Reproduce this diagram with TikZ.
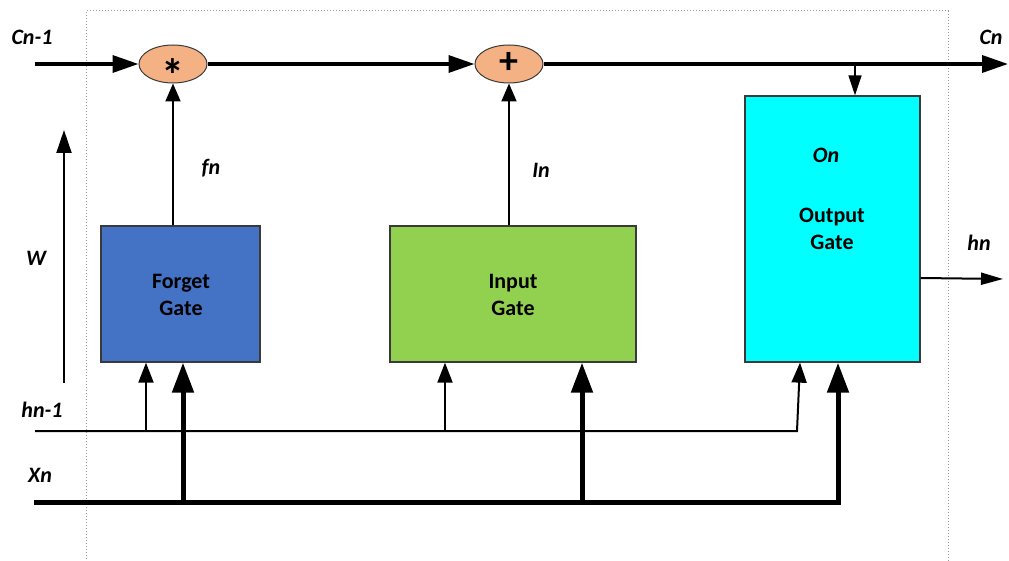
\documentclass[tikz,border=0pt]{standalone}
\usepackage{fontspec}
\setmainfont{Carlito}
\usetikzlibrary{arrows.meta,shapes.geometric}
\definecolor{forgetc}{HTML}{4472C4}
\definecolor{inputc}{HTML}{92D050}
\definecolor{outc}{HTML}{00FFFF}
\definecolor{opc}{HTML}{F4B183}
\definecolor{edgec}{HTML}{3A3A3A}
\begin{document}
\begin{tikzpicture}[x=1pt,y=-1pt,
  gatebox/.style={draw=edgec,line width=1.3pt,inner sep=0pt},
  opnode/.style={ellipse,draw=edgec,line width=1pt,fill=opc,minimum width=68pt,minimum height=38pt,inner sep=0pt},
  lbl/.style={font=\fontsize{22}{24}\selectfont\bfseries\itshape},
  gtxt/.style={font=\fontsize{22}{27}\selectfont\bfseries,align=center},
  cell/.style={line width=3.5pt,-{Triangle[length=26pt,width=17pt]}},
  thin/.style={line width=2pt,-{Triangle[length=20pt,width=15pt]}},
  thick/.style={line width=5pt,-{Triangle[length=30pt,width=21pt]}},
  sig/.style={line width=1.6pt,-{Triangle[length=20pt,width=13pt]}}
]
\useasboundingbox (0,0) rectangle (1009,561);
% dotted frame
\draw[gray!80,dotted,line width=1pt] (86,565) -- (86,11) -- (948,11) -- (948,565);
% gates
\node[gatebox,fill=forgetc,minimum width=159pt,minimum height=136pt] (forget) at (180.5,294) {};
\node[gtxt] at (181,295) {Forget\\Gate};
\node[gatebox,fill=inputc,minimum width=246pt,minimum height=136pt] (input) at (513,294) {};
\node[gtxt] at (513,295) {Input\\Gate};
\node[gatebox,fill=outc,minimum width=175pt,minimum height=266pt] (outg) at (832.5,229) {};
\node[lbl] (on) at (826,155) {On};
\node[gtxt] (outtxt) at (832,229) {Output\\Gate};
% operators
\node[opnode] (mult) at (173,64) {};
\node[font=\fontsize{46}{46}\selectfont\bfseries] at (173,75) {*};
\node[opnode] (add) at (509,64) {};
\node[font=\fontsize{38}{38}\selectfont\bfseries] at (509,63) {+};
% labels
\node[lbl] (lcn1) at (32,37) {Cn-1};
\node[lbl] (lcn) at (991,37) {Cn};
\node[lbl] (lfn) at (211,168) {fn};
\node[lbl] (lin) at (541,170) {In};
\node[lbl] (lw) at (36,258) {W};
\node[lbl] (lhn1) at (42,410) {hn-1};
\node[lbl] (lxn) at (40,475) {Xn};
\node[lbl] (lhn) at (979,243) {hn};
% coordinates
\coordinate (cin) at (35,64);
\coordinate (cout) at (1008,64);
\coordinate (tap) at (855,64);
\coordinate (wlo) at (64,383);
\coordinate (whi) at (64,130);
\coordinate (hs) at (35,431);
\coordinate (hb1) at (146,431);
\coordinate (hb2) at (445,431);
\coordinate (hturn) at (797,431);
\coordinate (xs) at (34,502);
\coordinate (xb1) at (183,502);
\coordinate (xb2) at (582,502);
\coordinate (xturn) at (838,502);
\coordinate (hout) at (1003,279);
% cell state
\draw[cell] (cin) -- (mult.west);
\draw[cell] (mult.east) -- (add.west);
\draw[cell] (add.east) -- (cout);
\draw[sig] (tap) -- (tap |- outg.north);
% gate outputs
\draw[thin,-{Triangle[length=18pt,width=15pt]}] (mult.south |- forget.north) -- (mult.south);
\draw[thin,-{Triangle[length=18pt,width=15pt]}] (add.south |- input.north) -- (add.south);
% W
\draw[thin,-{Triangle[length=23pt,width=15pt]}] (wlo) -- (whi);
% hn-1
\draw[thin] (hs) -- (hturn) -- ([xshift=-32.5pt]outg.south);
\draw[thin] (hb1) -- (hb1 |- forget.south);
\draw[thin] (hb2) -- (hb2 |- input.south);
% Xn
\draw[thick] (xs) -- (xturn) -- (xturn |- outg.south);
\draw[thick] (xb1) -- (xb1 |- forget.south);
\draw[thick] (xb2) -- (xb2 |- input.south);
% hn
\draw[line width=2pt,-{Triangle[length=22pt,width=12pt]}] (outg.east |- 0,278) -- (hout);
\end{tikzpicture}
\end{document}
